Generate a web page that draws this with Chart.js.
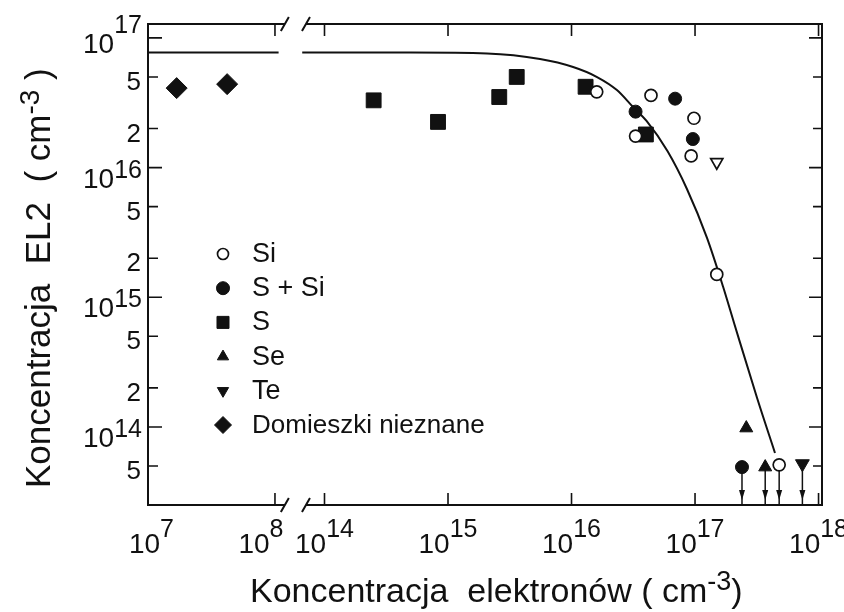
<!DOCTYPE html>
<html>
<head>
<meta charset="utf-8">
<title>Koncentracja EL2</title>
<script src="https://cdn.jsdelivr.net/npm/chart.js@4.4.1/dist/chart.umd.min.js"></script>
<style>
  html, body { margin: 0; padding: 0; background: #fff; }
  #wrap { width: 844px; height: 612px; }
</style>
</head>
<body>
<div id="wrap"><canvas id="chartEL2" width="844" height="612"></canvas></div>
<script>
/* ── DANE ──────────────────────────────────────────── */

// krzywa (lewy odcinek osi 10^7..10^8 i prawy 10^14..10^18)
var curveLeftX  = [9.4e6, 1.07e8];
var curveLeftY  = [7.7e16, 7.7e16];
var curveRightX = [6.6e13, 1e14, 5e14, 2.07e15, 5.56e15, 1.03e16, 1.61e16, 2.33e16, 3.15e16, 4.05e16, 5.98e16, 8.6e16, 1.25e17, 1.69e17, 2.07e17, 3.18e17, 4.44e17];
var curveRightY = [7.7e16, 7.7e16, 7.7e16, 7.58e16, 6.87e16, 5.96e16, 4.99e16, 3.96e16, 2.93e16, 2.29e16, 1.34e16, 6.84e15, 2.87e15, 1.2e15, 6.34e14, 1.67e14, 6.3e13];

// punkty pomiarowe
var siX   = [1.6e16, 4.4e16, 3.3e16, 9.8e16, 9.3e16, 1.5e17, 4.8e17];
var siY   = [3.84e16, 3.6e16, 1.75e16, 2.4e16, 1.23e16, 1.5e15, 5.1e13];
var ssiX  = [3.3e16, 6.9e16, 9.6e16, 2.4e17];
var ssiY  = [2.7e16, 3.4e16, 1.66e16, 4.9e13];
var sX    = [2.5e14, 8.3e14, 2.6e15, 3.6e15, 1.3e16, 4.0e16];
var sY    = [3.3e16, 2.25e16, 3.5e16, 5.0e16, 4.2e16, 1.8e16];
var seX   = [2.6e17, 3.7e17];
var seY   = [9.8e13, 4.9e13];
var teX   = [7.4e17];
var teY   = [5.2e13];
var teOpenX = [1.5e17];
var teOpenY = [1.1e16];
var unkX  = [1.6e7, 4.1e7];
var unkY  = [4.1e16, 4.4e16];

// punkty będące górnym ograniczeniem (strzałki w dół)
var upperLimitX = [2.4e17, 3.7e17, 4.8e17, 7.4e17];
var upperLimitY = [4.9e13, 4.9e13, 5.1e13, 5.2e13];

// osie
var xTickValues = [1e7, 1e8, 1e14, 1e15, 1e16, 1e17, 1e18];
var xTickLabels = ['10^7', '10^8', '10^14', '10^15', '10^16', '10^17', '10^18'];
var yTickValues = [1e17, 5e16, 2e16, 1e16, 5e15, 2e15, 1e15, 5e14, 2e14, 1e14, 5e13];
var yTickLabels = ['10^17', '5', '2', '10^16', '5', '2', '10^15', '5', '2', '10^14', '5'];

var legendLabels = ['Si', 'S + Si', 'S', 'Se', 'Te', 'Domieszki nieznane'];

/* ── OŚ Z PRZERWĄ ──────────────────────────────────── */
var RIGHT_SEG_START = 1.401;   // pozycja 10^14 na osi (w dekadach od 10^7)
var BREAK_LO = 8.08, BREAK_HI = 13.85;

function axisPos(v) {
  var l = Math.log10(v);
  return l < 11 ? l - 7 : l - 14 + RIGHT_SEG_START;
}

class BrokenLogScale extends Chart.LinearScale {
  determineDataLimits() {
    this.min = this.options.posMin;
    this.max = this.options.posMax;
  }
  getPixelForValue(value) {
    return super.getPixelForValue(value == null ? null : axisPos(value));
  }
}
BrokenLogScale.id = 'brokenLog';
BrokenLogScale.defaults = Chart.LinearScale.defaults;
Chart.register(BrokenLogScale);

var FONT = '"Liberation Sans", Arial, sans-serif';
var INK = '#111';

function pts(xs, ys) {
  return xs.map(function(x, i) { return { x: x, y: ys[i] }; });
}

function marker(style, r, fill, extra) {
  return Object.assign({
    pointStyle: style, pointRadius: r,
    pointBackgroundColor: fill, pointBorderColor: INK, pointBorderWidth: fill === '#fff' ? 1.7 : 1,
    showLine: false
  }, extra || {});
}

// tekst z wykładnikiem: "10^17"
function drawSup(ctx, label, x, yBase, ySup, baseSize, supSize, align) {
  var parts = label.split('^');
  ctx.font = baseSize + 'px ' + FONT;
  var wb = ctx.measureText(parts[0]).width;
  var ws = 0;
  if (parts[1]) { ctx.font = supSize + 'px ' + FONT; ws = ctx.measureText(parts[1]).width; }
  var left = align === 'right' ? x - wb - ws : (align === 'center' ? x - (wb + ws) / 2 : x);
  ctx.textAlign = 'left';
  ctx.font = baseSize + 'px ' + FONT;
  ctx.fillText(parts[0], left, yBase);
  if (parts[1]) {
    ctx.font = supSize + 'px ' + FONT;
    ctx.fillText(parts[1], left + wb, ySup);
  }
  return left + wb + ws;
}

var axisDecor = {
  id: 'axisDecor',
  beforeDatasetsDraw: function(chart) {
    var ctx = chart.ctx, a = chart.chartArea;
    var xs = chart.scales.x, ys = chart.scales.y;
    var bl = xs.getPixelForValue(Math.pow(10, BREAK_LO));
    var br = xs.getPixelForValue(Math.pow(10, BREAK_HI));
    ctx.save();
    ctx.strokeStyle = INK;
    ctx.fillStyle = INK;
    ctx.lineWidth = 2;
    ctx.beginPath();
    ctx.moveTo(bl, a.top); ctx.lineTo(a.left, a.top); ctx.lineTo(a.left, a.bottom); ctx.lineTo(bl, a.bottom);
    ctx.moveTo(br, a.top); ctx.lineTo(a.right, a.top); ctx.lineTo(a.right, a.bottom); ctx.lineTo(br, a.bottom);
    [a.top, a.bottom].forEach(function(y) {
      [bl, br].forEach(function(x) { ctx.moveTo(x - 4, y + 7); ctx.lineTo(x + 4, y - 7); });
    });
    ctx.stroke();

    // znaczniki osi
    ctx.lineWidth = 1.6;
    ctx.beginPath();
    yTickValues.forEach(function(v, i) {
      var y = ys.getPixelForValue(v);
      var len = yTickLabels[i].indexOf('^') > 0 ? 14 : 10;
      ctx.moveTo(a.left, y); ctx.lineTo(a.left + len, y);
      ctx.moveTo(a.right, y); ctx.lineTo(a.right - len + 1, y);
    });
    xTickValues.forEach(function(v) {
      var x = xs.getPixelForValue(v);
      if (x - a.left < 6) return;
      ctx.moveTo(x, a.bottom); ctx.lineTo(x, a.bottom - 12);
      ctx.moveTo(x, a.top); ctx.lineTo(x, a.top + 12);
    });
    ctx.stroke();

    // strzałki górnych ograniczeń
    upperLimitX.forEach(function(v, i) {
      var x = xs.getPixelForValue(v), y0 = ys.getPixelForValue(upperLimitY[i]);
      ctx.beginPath();
      ctx.lineWidth = 1.5;
      ctx.moveTo(x, y0); ctx.lineTo(x, a.bottom);
      ctx.stroke();
      ctx.beginPath();
      ctx.moveTo(x, a.bottom - 5); ctx.lineTo(x - 3, a.bottom - 15); ctx.lineTo(x + 3, a.bottom - 15);
      ctx.closePath();
      ctx.fill();
    });
    ctx.restore();
  },
  afterDraw: function(chart) {
    var ctx = chart.ctx, a = chart.chartArea;
    var xs = chart.scales.x, ys = chart.scales.y;
    ctx.save();
    ctx.fillStyle = INK;
    ctx.textBaseline = 'alphabetic';

    // etykiety osi Y
    yTickValues.forEach(function(v, i) {
      var y = ys.getPixelForValue(v);
      var lab = yTickLabels[i];
      if (lab.indexOf('^') > 0) {
        var top = i === 0;
        drawSup(ctx, lab, a.left - 6, y + (top ? 15 : 20), y + (top ? -5 : 10), 28, 25, 'right');
      } else {
        drawSup(ctx, lab, a.left - 7, y + 13, 0, 26, 0, 'right');
      }
    });

    // etykiety osi X
    xTickValues.forEach(function(v, i) {
      var x = xs.getPixelForValue(v);
      if (v === 1e8) x -= 14;
      drawSup(ctx, xTickLabels[i], x, 553, 537, 28, 25, 'center');
    });

    // tytuł osi X
    var end = drawSup(ctx, 'Koncentracja  elektronów ( cm^-3', 250, 602, 590, 34, 27, 'left');
    ctx.font = '34px ' + FONT;
    ctx.fillText(')', end, 602);

    // tytuł osi Y
    ctx.save();
    ctx.translate(50, 488);
    ctx.rotate(-Math.PI / 2);
    end = drawSup(ctx, 'Koncentracja  EL2  ( cm^-3', 0, 0, -11, 35, 28, 'left');
    ctx.font = '35px ' + FONT;
    ctx.fillText(' )', end, 0);
    ctx.restore();

    // legenda
    var helpers = Chart.helpers;
    var legendMarkers = [
      { pointStyle: 'circle', radius: 5.5, fill: '#fff', bw: 1.7 },
      { pointStyle: 'circle', radius: 6.5, fill: INK, bw: 1 },
      { pointStyle: 'rect', radius: 8.5, fill: INK, bw: 1 },
      { pointStyle: 'triangle', radius: 6.5, fill: INK, bw: 1 },
      { pointStyle: 'triangle', radius: 6.5, fill: INK, bw: 1, rotation: 180 },
      { pointStyle: 'rectRot', radius: 8.5, fill: INK, bw: 1 }
    ];
    legendLabels.forEach(function(lab, i) {
      var base = 262 + i * 34.2;
      var m = legendMarkers[i];
      ctx.fillStyle = m.fill;
      ctx.strokeStyle = INK;
      ctx.lineWidth = m.bw;
      helpers.drawPoint(ctx, { pointStyle: m.pointStyle, radius: m.radius, rotation: m.rotation || 0, borderWidth: m.bw }, 223, base - 8);
      ctx.fillStyle = INK;
      ctx.font = (i === 5 ? 26 : 27) + 'px ' + FONT;
      ctx.textAlign = 'left';
      ctx.fillText(lab, 252, base);
    });
    ctx.restore();
  }
};

var curveStyle = {
  showLine: true, pointRadius: 0, borderColor: INK, borderWidth: 2,
  fill: false, cubicInterpolationMode: 'monotone', order: 10
};

new Chart(document.getElementById('chartEL2'), {
  type: 'scatter',
  data: {
    datasets: [
      Object.assign({ label: 'Si', data: pts(siX, siY) }, marker('circle', 6, '#fff')),
      Object.assign({ label: 'S + Si', data: pts(ssiX, ssiY) }, marker('circle', 6.5, INK)),
      Object.assign({ label: 'S', data: pts(sX, sY) }, marker('rect', 10.5, INK)),
      Object.assign({ label: 'Se', data: pts(seX, seY) }, marker('triangle', 7.5, INK)),
      Object.assign({ label: 'Te', data: pts(teX, teY) }, marker('triangle', 8, INK, { pointRotation: 180 })),
      Object.assign({ label: 'Te (otwarte)', data: pts(teOpenX, teOpenY) }, marker('triangle', 7, '#fff', { pointRotation: 180 })),
      Object.assign({ label: 'Domieszki nieznane', data: pts(unkX, unkY) }, marker('rectRot', 10.5, INK)),
      Object.assign({ label: 'krzywa L', data: pts(curveLeftX, curveLeftY) }, curveStyle),
      Object.assign({ label: 'krzywa P', data: pts(curveRightX, curveRightY) }, curveStyle)
    ]
  },
  options: {
    responsive: false,
    animation: false,
    events: [],
    devicePixelRatio: 1,
    layout: { padding: { left: 148, right: 22, top: 24, bottom: 107 } },
    scales: {
      x: { type: 'brokenLog', display: false, bounds: 'data', posMin: -0.028, posMax: 5.429 },
      y: { type: 'logarithmic', display: false, min: 2.5e13, max: 1.28e17 }
    },
    plugins: {
      legend: { display: false },
      tooltip: { enabled: false }
    }
  },
  plugins: [axisDecor]
});
</script>
</body>
</html>
